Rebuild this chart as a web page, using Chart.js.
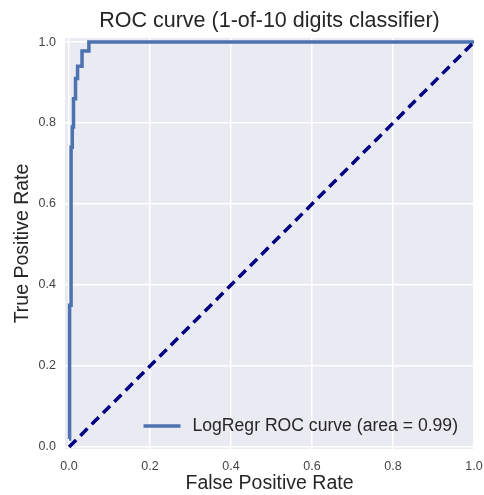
<!DOCTYPE html>
<html>
<head>
<meta charset="utf-8">
<script src="https://cdn.jsdelivr.net/npm/chart.js@4/dist/chart.umd.min.js"></script>
<style>
  html, body { margin: 0; padding: 0; background: #fff; }
  #wrap { width: 484px; height: 495px; position: relative; }
</style>
</head>
<body>
<div id="wrap"><canvas id="roc-chart"></canvas></div>
<script>
// ROC curve points
const fpr = [0, 0, 0.002, 0.002, 0.005, 0.005, 0.008, 0.008, 0.011, 0.011, 0.016, 0.016, 0.021, 0.021, 0.032, 0.032, 0.049, 0.049, 1.0];
const tpr = [0.02, 0.23, 0.23, 0.35, 0.35, 0.74, 0.74, 0.79, 0.79, 0.86, 0.86, 0.91, 0.91, 0.94, 0.94, 0.978, 0.978, 1.0, 1.0];

// chance diagonal
const diagX = [0, 1];
const diagY = [0, 1];

const tickValues = [0, 0.2, 0.4, 0.6, 0.8, 1.0];
const legendLabel = "LogRegr ROC curve (area = 0.99)";

const FONT = "'Liberation Sans', Arial, sans-serif";

// plot background + legend drawn inside the plot
const plotDecor = {
  id: "plotDecor",
  beforeDraw(chart) {
    const { ctx, chartArea: a } = chart;
    ctx.save();
    ctx.fillStyle = "#EAEAF2";
    ctx.fillRect(a.left, a.top, a.right - a.left, a.bottom - a.top);
    ctx.restore();
  },
  afterDraw(chart) {
    const { ctx, chartArea: a } = chart;
    ctx.save();
    ctx.font = "17.6px " + FONT;
    ctx.fillStyle = "#262626";
    ctx.textBaseline = "middle";
    const w = ctx.measureText(legendLabel).width;
    const tx = a.right - 16 - w;
    const ty = a.bottom - 23;
    ctx.fillText(legendLabel, tx, ty);
    ctx.strokeStyle = "#4C72B0";
    ctx.lineWidth = 3.5;
    ctx.beginPath();
    ctx.moveTo(tx - 49, ty);
    ctx.lineTo(tx - 12, ty);
    ctx.stroke();
    ctx.restore();
  }
};

const ctx = document.getElementById("roc-chart");

new Chart(ctx, {
  type: "line",
  data: {
    datasets: [
      {
        label: "diag",
        data: diagX.map((x, i) => ({ x: x, y: diagY[i] })),
        borderColor: "#000080",
        borderWidth: 3.5,
        borderDash: [10, 6],
        pointRadius: 0,
        fill: false,
        order: 0
      },
      {
        label: legendLabel,
        data: fpr.map((x, i) => ({ x: x, y: tpr[i] })),
        borderColor: "#4C72B0",
        borderWidth: 3.5,
        pointRadius: 0,
        tension: 0,
        fill: false,
        order: 1
      }
    ]
  },
  options: {
    responsive: true,
    maintainAspectRatio: false,
    animation: false,
    layout: { padding: { left: 0, right: 10, top: 0, bottom: 0 } },
    scales: {
      x: {
        type: "linear",
        min: -0.01,
        max: 1.0,
        afterBuildTicks: s => { s.ticks = tickValues.map(v => ({ value: v })); },
        afterFit: s => { s.height = 46; s.paddingLeft = 0; s.paddingRight = 0; },
        grid: { color: "#FFFFFF", lineWidth: 1.5, drawTicks: false },
        border: { display: false },
        ticks: {
          padding: 10,
          color: "#444",
          font: { family: FONT, size: 12.5 },
          callback: v => Number(v).toFixed(1)
        },
        title: {
          display: true,
          text: "False Positive Rate",
          color: "#262626",
          font: { family: FONT, size: 19.5 },
          padding: { top: 0, bottom: 0 }
        }
      },
      y: {
        type: "linear",
        min: -0.005,
        max: 1.01,
        afterBuildTicks: s => { s.ticks = tickValues.map(v => ({ value: v })); },
        afterFit: s => { s.width = 65; s.paddingTop = 0; s.paddingBottom = 0; },
        grid: { color: "#FFFFFF", lineWidth: 1.5, drawTicks: false },
        border: { display: false },
        ticks: {
          padding: 9,
          color: "#444",
          font: { family: FONT, size: 12.5 },
          callback: v => Number(v).toFixed(1)
        },
        title: {
          display: true,
          text: "True Positive Rate",
          color: "#262626",
          font: { family: FONT, size: 19.5 },
          padding: { top: 11, bottom: 0 }
        }
      }
    },
    plugins: {
      legend: { display: false },
      tooltip: { enabled: false },
      title: {
        display: true,
        fullSize: false,
        text: "ROC curve (1-of-10 digits classifier)",
        color: "#262626",
        font: { family: FONT, size: 21.5, weight: "normal" },
        padding: { top: 8, bottom: 4.2 }
      }
    }
  },
  plugins: [plotDecor]
});
</script>
</body>
</html>
